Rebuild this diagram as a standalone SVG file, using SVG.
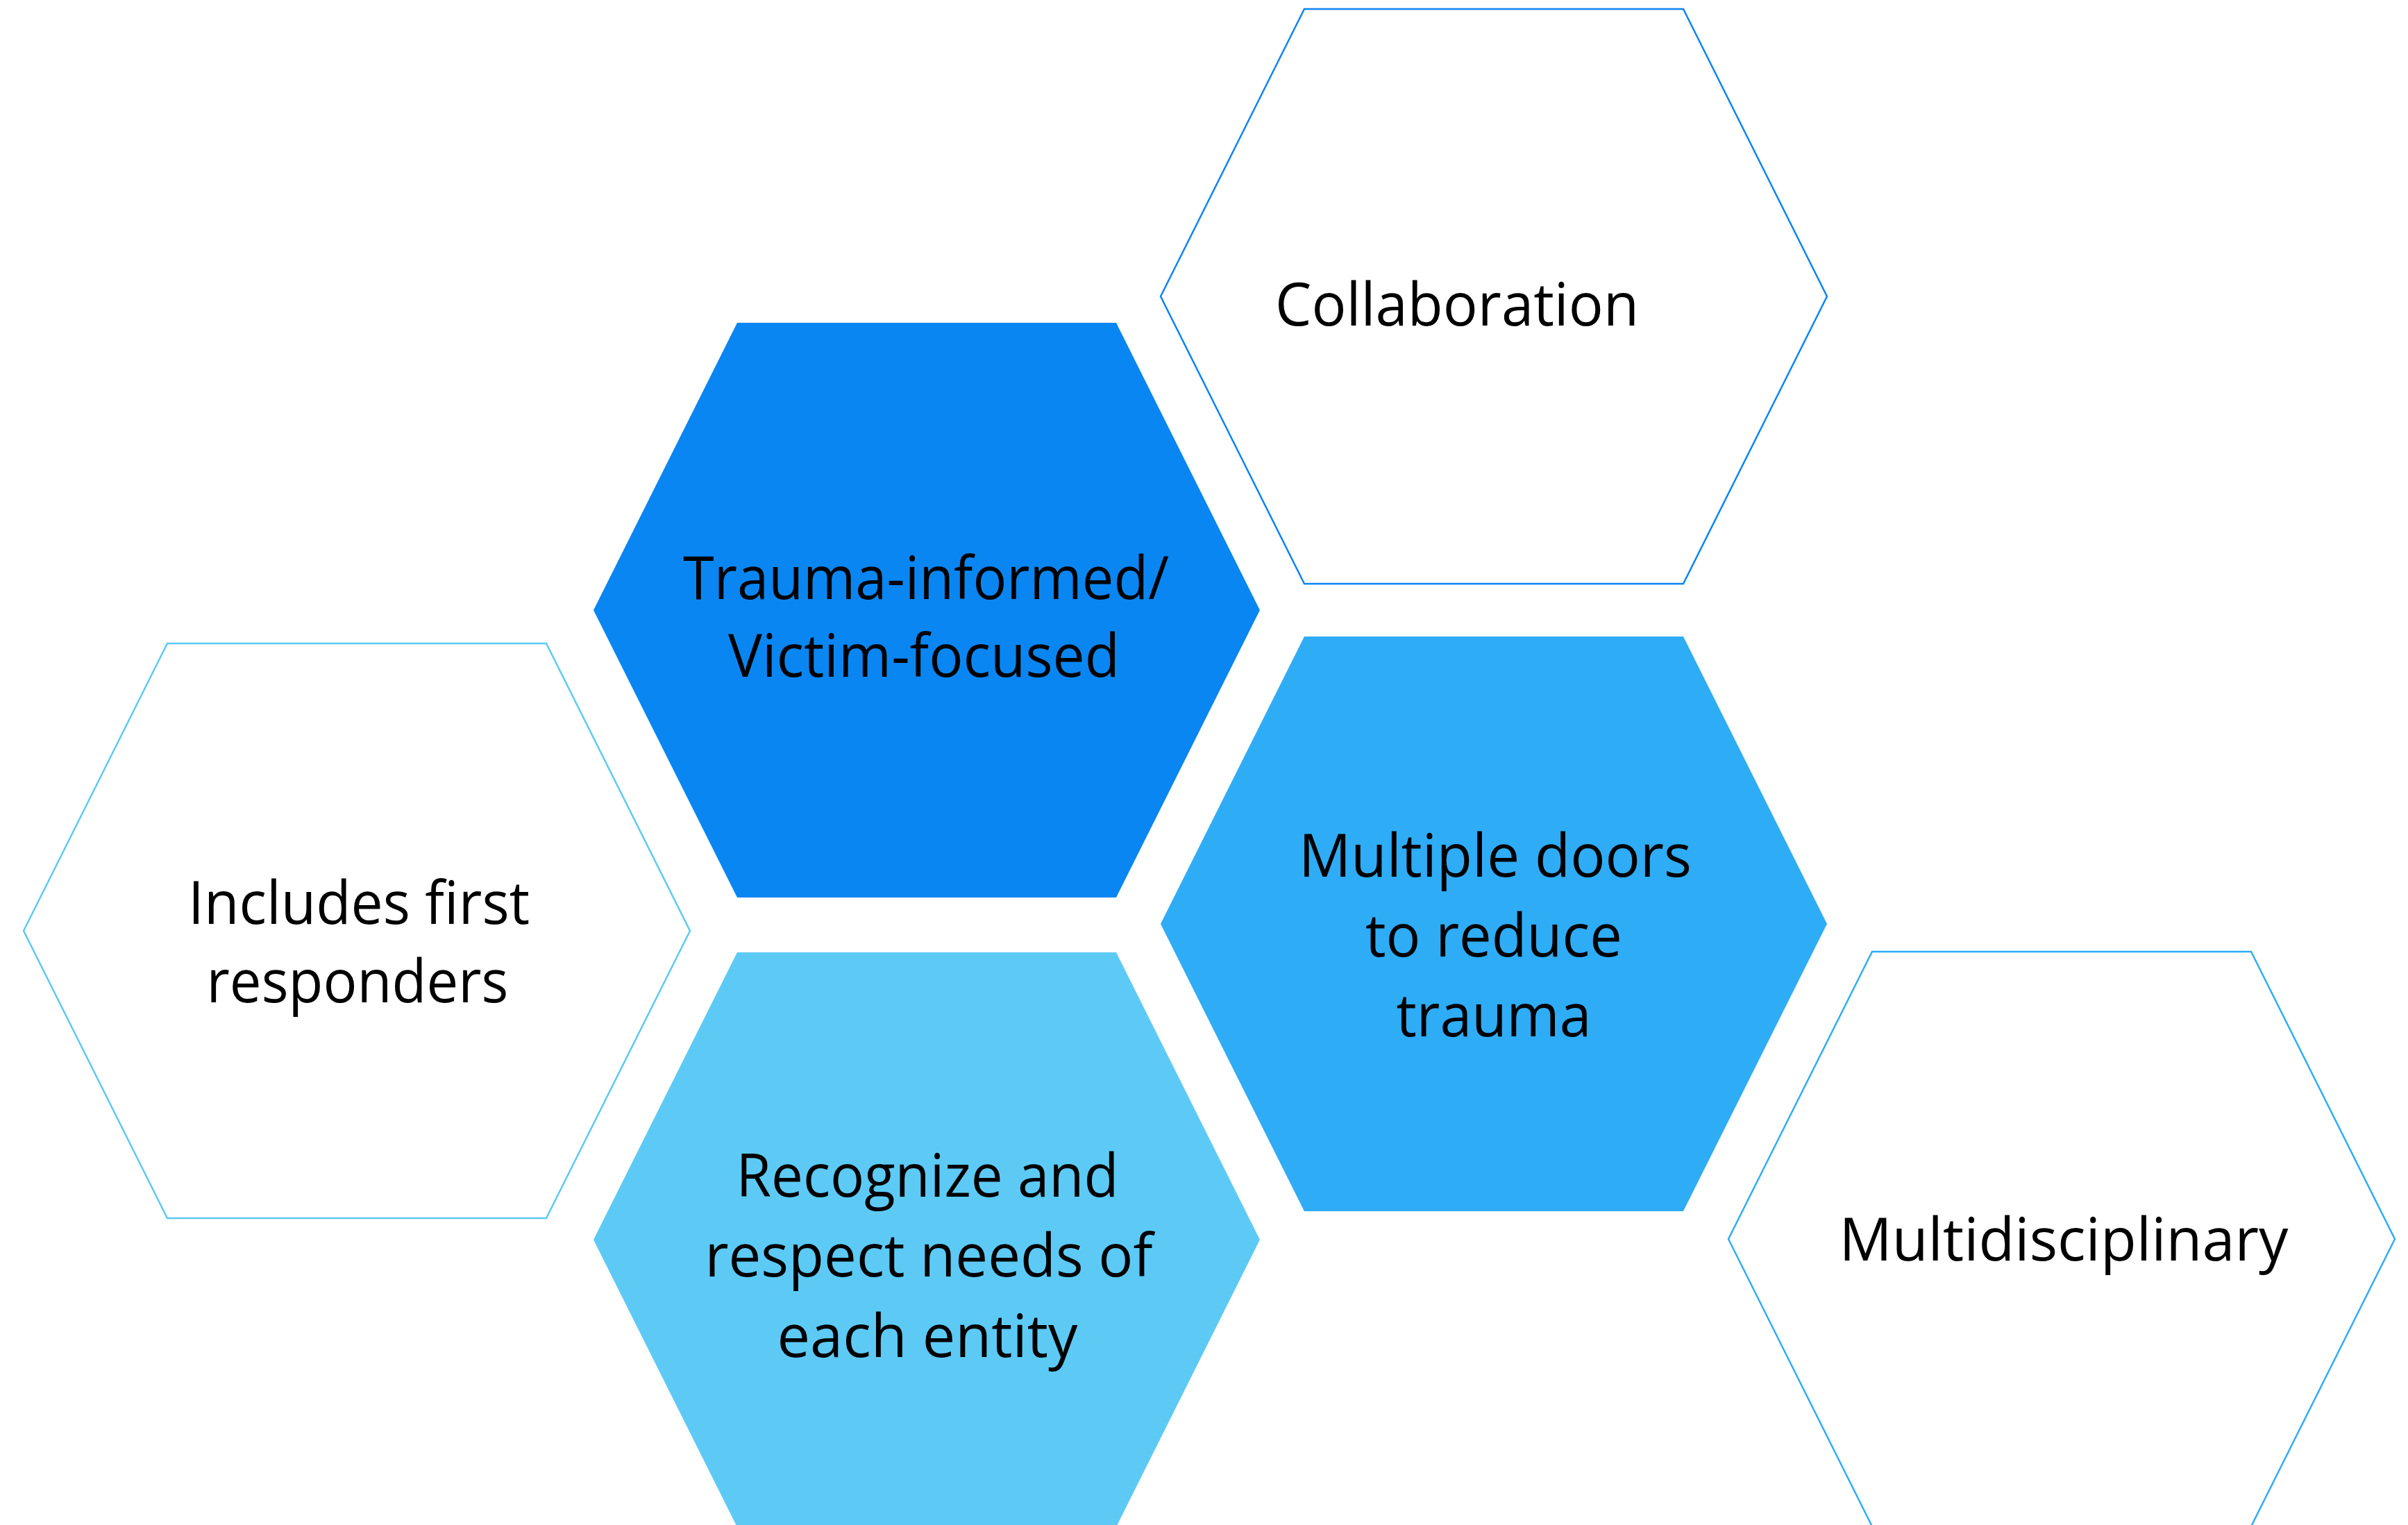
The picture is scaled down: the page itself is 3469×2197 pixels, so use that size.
<svg xmlns="http://www.w3.org/2000/svg" width="3469" height="2197" viewBox="0 0 3469 2197">
<style>
.t{font-family:"Open Sans","Liberation Sans",sans-serif;font-size:86px;fill:#000;text-anchor:middle}
.ol{fill:#fff;stroke-width:2.5}
</style>
<defs>
<polygon id="hex" points="-480,0 -273,-414 273,-414 480,0 273,414 -273,414"/>
</defs>
<rect width="3469" height="2197" fill="#fff"/>
<g id="collaboration" transform="translate(2152,427)">
<use href="#hex" class="ol" stroke="#0A84F0"/>
<text class="t" x="-53" y="42" textLength="524" lengthAdjust="spacingAndGlyphs">Collaboration</text>
</g>
<g id="trauma-informed" transform="translate(1335,879)">
<use href="#hex" fill="#0A86F2"/>
<text class="t" x="-1" y="-16" textLength="700" lengthAdjust="spacingAndGlyphs">Trauma-informed/</text>
<text class="t" x="-4" y="96" textLength="564" lengthAdjust="spacingAndGlyphs">Victim-focused</text>
</g>
<g id="includes-first-responders" transform="translate(514,1341)">
<use href="#hex" class="ol" stroke="#5DC9F5"/>
<text class="t" x="3" y="-10" textLength="492" lengthAdjust="spacingAndGlyphs">Includes first</text>
<text class="t" x="1" y="103" textLength="435" lengthAdjust="spacingAndGlyphs">responders</text>
</g>
<g id="multiple-doors" transform="translate(2152,1331)">
<use href="#hex" fill="#2FACF6"/>
<text class="t" x="2" y="-68" textLength="566" lengthAdjust="spacingAndGlyphs">Multiple doors</text>
<text class="t" x="0" y="47" textLength="370" lengthAdjust="spacingAndGlyphs">to reduce</text>
<text class="t" x="0" y="162" textLength="281" lengthAdjust="spacingAndGlyphs">trauma</text>
</g>
<g id="recognize-and-respect" transform="translate(1335,1786)">
<use href="#hex" fill="#5DCAF5"/>
<text class="t" x="1" y="-62" textLength="551" lengthAdjust="spacingAndGlyphs">Recognize and</text>
<text class="t" x="3" y="53" textLength="645" lengthAdjust="spacingAndGlyphs">respect needs of</text>
<text class="t" x="1" y="169" textLength="433" lengthAdjust="spacingAndGlyphs">each entity</text>
</g>
<g id="multidisciplinary" transform="translate(2970,1785)">
<use href="#hex" class="ol" stroke="#2FACF6"/>
<text class="t" x="3" y="31" textLength="647" lengthAdjust="spacingAndGlyphs">Multidisciplinary</text>
</g>
<g id="connectors"/>
</svg>
